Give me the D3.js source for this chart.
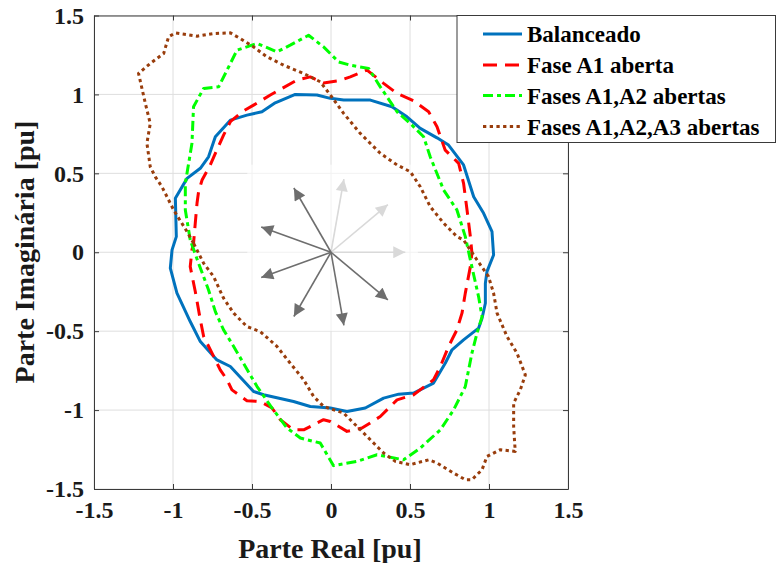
<!DOCTYPE html>
<html>
<head>
<meta charset="utf-8">
<script src="https://cdn.jsdelivr.net/npm/d3@7"></script>
<style>
  html, body { margin: 0; padding: 0; background: #fff; }
  svg { display: block; font-family: "Liberation Serif", "Times New Roman", serif; }
</style>
</head>
<body>
<svg id="chart" width="777" height="563"></svg>
<script>
// Locus of the voltage phasor in the complex plane (per unit), one closed curve per case
const balanceado = [
  [-1.017,-0.101],[-1.006,0.015],[-0.979,0.099],[-0.985,0.342],[-0.911,0.468],[-0.827,0.532],
  [-0.775,0.605],[-0.732,0.732],[-0.637,0.837],[-0.532,0.869],[-0.437,0.890],[-0.353,0.947],
  [-0.226,1.000],[-0.089,0.996],[-0.004,0.975],[0.080,0.964],[0.249,0.964],[0.386,0.922],
  [0.481,0.858],[0.565,0.785],[0.671,0.725],[0.744,0.679],[0.839,0.553],[0.903,0.352],
  [0.966,0.247],[1.019,0.130],[1.029,-0.017],[0.987,-0.123],[0.977,-0.196],[0.977,-0.323],
  [0.956,-0.418],[0.934,-0.481],[0.839,-0.555],[0.766,-0.618],[0.723,-0.703],[0.649,-0.829],
  [0.523,-0.892],[0.428,-0.899],[0.333,-0.924],[0.217,-0.987],[0.101,-1.009],[-0.004,-0.987],
  [-0.131,-0.977],[-0.237,-0.946],[-0.427,-0.903],[-0.490,-0.882],[-0.637,-0.724],[-0.722,-0.682],
  [-0.827,-0.566],[-0.891,-0.439],[-0.975,-0.259]
];

const faseA1 = [
  [-0.880,0.015],[-0.870,0.057],[-0.859,0.184],[-0.848,0.310],[-0.838,0.384],[-0.816,0.458],
  [-0.764,0.553],[-0.732,0.627],[-0.680,0.742],[-0.637,0.827],[-0.563,0.890],[-0.490,0.932],
  [-0.384,0.996],[-0.310,1.038],[-0.215,1.091],[-0.131,1.111],[-0.047,1.073],[0.048,1.086],
  [0.122,1.111],[0.228,1.154],[0.333,1.070],[0.418,1.006],[0.523,0.959],[0.618,0.890],
  [0.671,0.795],[0.723,0.647],[0.808,0.563],[0.839,0.437],[0.861,0.268],[0.882,0.099],
  [0.892,-0.006],[0.882,-0.091],[0.850,-0.259],[0.829,-0.386],[0.797,-0.491],[0.744,-0.597],
  [0.692,-0.724],[0.649,-0.808],[0.523,-0.903],[0.418,-0.935],[0.312,-1.041],[0.196,-1.114],
  [0.101,-1.135],[-0.004,-1.072],[-0.047,-1.061],[-0.173,-1.125],[-0.237,-1.125],[-0.321,-1.061],
  [-0.373,-0.987],[-0.447,-0.946],[-0.532,-0.941],[-0.627,-0.872],[-0.658,-0.808],[-0.701,-0.745],
  [-0.753,-0.639],[-0.806,-0.534],[-0.827,-0.428],[-0.859,-0.249],[-0.891,-0.091]
];

const fasesA1A2 = [
  [-0.891,0.078],[-0.922,0.268],[-0.922,0.437],[-0.901,0.563],[-0.880,0.690],[-0.870,0.922],
  [-0.806,1.038],[-0.711,1.048],[-0.658,1.154],[-0.595,1.280],[-0.468,1.323],[-0.342,1.270],
  [-0.258,1.312],[-0.142,1.375],[-0.047,1.301],[0.048,1.206],[0.122,1.185],[0.238,1.165],
  [0.312,1.048],[0.418,0.890],[0.502,0.816],[0.586,0.732],[0.628,0.605],[0.713,0.394],
  [0.797,0.268],[0.850,0.099],[0.882,-0.049],[0.934,-0.281],[0.956,-0.408],[0.924,-0.513],
  [0.892,-0.639],[0.850,-0.851],[0.776,-0.999],[0.692,-1.125],[0.565,-1.241],[0.459,-1.315],
  [0.291,-1.283],[0.165,-1.325],[0.016,-1.352],[-0.068,-1.209],[-0.194,-1.177],[-0.278,-1.114],
  [-0.373,-0.987],[-0.468,-0.851],[-0.542,-0.724],[-0.616,-0.597],[-0.680,-0.492],[-0.732,-0.376],
  [-0.775,-0.239],[-0.838,-0.070]
];

const fasesA1A2A3 = [
  [-0.870,0.057],[-0.911,0.130],[-0.996,0.268],[-1.070,0.415],[-1.112,0.478],[-1.144,0.542],
  [-1.165,0.690],[-1.144,0.816],[-1.175,0.943],[-1.218,1.133],[-1.144,1.196],[-1.059,1.259],
  [-1.028,1.365],[-0.985,1.390],[-0.848,1.369],[-0.743,1.386],[-0.637,1.390],[-0.574,1.354],
  [-0.490,1.301],[-0.405,1.238],[-0.300,1.185],[-0.173,1.133],[-0.068,1.080],[-0.004,0.996],
  [0.080,0.880],[0.185,0.753],[0.312,0.627],[0.418,0.553],[0.502,0.510],[0.565,0.415],
  [0.628,0.289],[0.713,0.184],[0.797,0.099],[0.839,0.078],[0.924,-0.049],[0.997,-0.154],
  [1.029,-0.259],[1.051,-0.386],[1.114,-0.534],[1.177,-0.639],[1.230,-0.777],[1.198,-0.872],
  [1.156,-0.956],[1.156,-1.104],[1.166,-1.262],[1.072,-1.251],[0.987,-1.294],[0.956,-1.378],
  [0.892,-1.441],[0.850,-1.441],[0.776,-1.399],[0.671,-1.335],[0.618,-1.315],[0.502,-1.346],
  [0.407,-1.325],[0.333,-1.272],[0.249,-1.188],[0.165,-1.104],[0.080,-1.019],[-0.047,-0.977],
  [-0.110,-0.914],[-0.173,-0.808],[-0.258,-0.703],[-0.342,-0.597],[-0.447,-0.503],[-0.532,-0.471],
  [-0.616,-0.386],[-0.680,-0.291],[-0.743,-0.154],[-0.806,-0.070]
];

const seriesNames = ["Balanceado", "Fase A1 aberta", "Fases A1,A2 abertas", "Fases A1,A2,A3 abertas"];

// Nine-phase reference phasors (angle in degrees, magnitude in pu); open phases drawn faded
const phasorAngles = [0, 40, 80, 120, 160, 200, 240, 280, 320];
const phasorOpen   = [true, true, true, false, false, false, false, false, false];
const phasorMag = 0.47;

const tickValues = [-1.5, -1, -0.5, 0, 0.5, 1, 1.5];
const xTitle = "Parte Real [pu]";
const yTitle = "Parte Imaginária [pu]";

// ---------------------------------------------------------------------------
const svg = d3.select("#chart");
const plot = { left: 94, right: 568, top: 15.5, bottom: 489 };

const x = d3.scaleLinear().domain([-1.5, 1.5]).range([plot.left, plot.right]);
const y = d3.scaleLinear().domain([-1.5, 1.5]).range([plot.bottom, plot.top]);

// grid
const grid = svg.append("g").attr("stroke", "#dedede").attr("stroke-width", 1);
tickValues.forEach(v => {
  grid.append("line").attr("x1", x(v)).attr("x2", x(v)).attr("y1", plot.top).attr("y2", plot.bottom);
  grid.append("line").attr("y1", y(v)).attr("y2", y(v)).attr("x1", plot.left).attr("x2", plot.right);
});

// phasor inset
svg.append("rect")
  .attr("x", x(-0.53)).attr("y", y(0.555))
  .attr("width", x(0.55) - x(-0.53)).attr("height", y(-0.5) - y(0.555))
  .attr("fill", "#fff").attr("opacity", 0.6);

const defs = svg.append("defs");
[["dark", "#6e6e6e"], ["light", "#d9d9d9"]].forEach(([id, c]) => {
  defs.append("marker").attr("id", "head-" + id)
    .attr("viewBox", "0 0 10 10").attr("refX", 10).attr("refY", 5)
    .attr("markerWidth", 8.5).attr("markerHeight", 7.5).attr("markerUnits", "strokeWidth")
    .attr("orient", "auto")
    .append("path").attr("d", "M0,0 L10,5 L0,10 Z").attr("fill", c);
});

const phasors = svg.append("g");
phasorAngles.forEach((a, i) => {
  const r = a * Math.PI / 180;
  phasors.append("line")
    .attr("x1", x(0)).attr("y1", y(0))
    .attr("x2", x(phasorMag * Math.cos(r))).attr("y2", y(phasorMag * Math.sin(r)))
    .attr("stroke", phasorOpen[i] ? "#d9d9d9" : "#6e6e6e")
    .attr("stroke-width", 1.6)
    .attr("marker-end", phasorOpen[i] ? "url(#head-light)" : "url(#head-dark)");
});

// curves
const styles = [
  { color: "#0072BD", dash: null },
  { color: "#FF0000", dash: "14,8" },
  { color: "#00FF00", dash: "10,4,4,4" },
  { color: "#993D0C", dash: "3.3,3.4" }
];
const line = d3.line().x(d => x(d[0])).y(d => y(d[1])).curve(d3.curveLinearClosed);
const curves = svg.append("g").attr("fill", "none");
[balanceado, faseA1, fasesA1A2, fasesA1A2A3].forEach((data, i) => {
  curves.append("path").datum(data)
    .attr("d", line)
    .attr("stroke", styles[i].color)
    .attr("stroke-width", 3)
    .attr("stroke-linejoin", "round")
    .attr("stroke-dasharray", styles[i].dash);
});

// axes (box with inward ticks)
const axisColor = "#3a3a3a";
const fmt = d => String(d);
const axB = svg.append("g").attr("transform", `translate(0,${plot.bottom})`)
  .call(d3.axisBottom(x).tickValues(tickValues).tickFormat(fmt).tickSizeInner(-5).tickSizeOuter(0).tickPadding(12));
const axT = svg.append("g").attr("transform", `translate(0,${plot.top})`)
  .call(d3.axisTop(x).tickValues(tickValues).tickFormat("").tickSizeInner(-5).tickSizeOuter(0));
const axL = svg.append("g").attr("transform", `translate(${plot.left},0)`)
  .call(d3.axisLeft(y).tickValues(tickValues).tickFormat(fmt).tickSizeInner(-5).tickSizeOuter(0).tickPadding(10));
const axR = svg.append("g").attr("transform", `translate(${plot.right},0)`)
  .call(d3.axisRight(y).tickValues(tickValues).tickFormat("").tickSizeInner(-5).tickSizeOuter(0));
[axB, axT, axL, axR].forEach(g => {
  g.selectAll(".domain").attr("stroke", axisColor);
  g.selectAll(".tick line").attr("stroke", axisColor);
  g.selectAll("text").attr("fill", "#1a1a1a")
    .style("font-family", '"Liberation Serif", serif')
    .style("font-size", "24px").style("font-weight", "bold");
});
axB.selectAll("text").attr("dy", "0.71em");

// axis titles
svg.append("text").attr("x", 330).attr("y", 558)
  .attr("text-anchor", "middle").attr("fill", "#1a1a1a")
  .style("font-size", "28px").style("font-weight", "bold").text(xTitle);
svg.append("text").attr("transform", "translate(34,252) rotate(-90)")
  .attr("text-anchor", "middle").attr("fill", "#1a1a1a")
  .style("font-size", "28px").style("font-weight", "bold").text(yTitle);

// legend
const lg = svg.append("g");
lg.append("rect").attr("x", 457).attr("y", 15.5).attr("width", 318.5).attr("height", 127)
  .attr("fill", "#fff").attr("stroke", axisColor).attr("stroke-width", 1);
const rowY = [34, 65, 95.5, 126.5];
seriesNames.forEach((name, i) => {
  lg.append("line").attr("x1", 483).attr("x2", 522).attr("y1", rowY[i]).attr("y2", rowY[i])
    .attr("stroke", styles[i].color).attr("stroke-width", 3)
    .attr("stroke-dasharray", styles[i].dash);
  lg.append("text").attr("x", 527).attr("y", rowY[i] + 8)
    .attr("fill", "#000").style("font-size", "23px").style("font-weight", "bold").text(name);
});
</script>
</body>
</html>
